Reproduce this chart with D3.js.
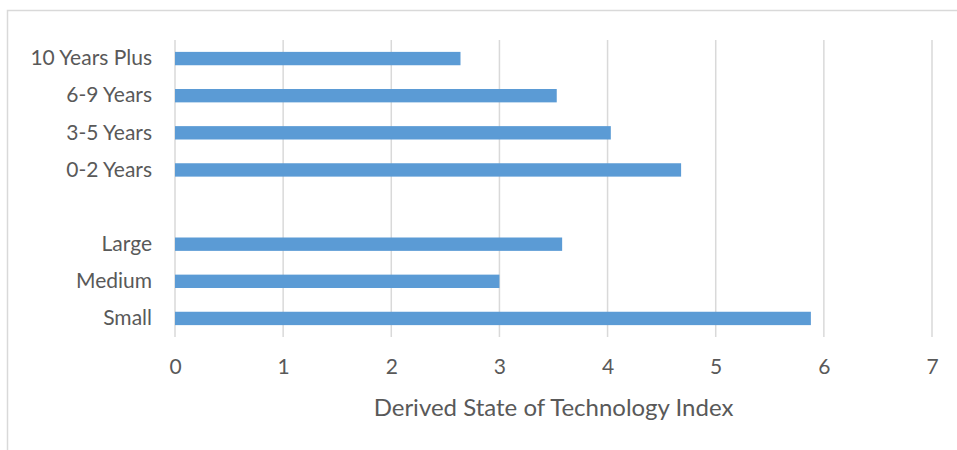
<!DOCTYPE html>
<html>
<head>
<meta charset="utf-8">
<script src="https://cdn.jsdelivr.net/npm/d3@7"></script>
<style>
  body { margin: 0; background: #fff; }
  text { font-family: Lato, "Open Sans", sans-serif; fill: #595959; }
</style>
</head>
<body>
<script>
// categories top to bottom, "" is the empty gap row
let categories = ["10 Years Plus", "6-9 Years", "3-5 Years", "0-2 Years", "", "Large", "Medium", "Small"];
let values = [2.64, 3.53, 4.03, 4.68, null, 3.58, 3.00, 5.88];
let xTicks = [0, 1, 2, 3, 4, 5, 6, 7];
let xTitle = "Derived State of Technology Index";

let data = categories.map(function(c, i){
  return {id: "c" + i, label: c, value: values[i]};
});

var W = 957, H = 450;
var margin = {top: 40, right: 25, bottom: 113, left: 175},
    width = W - margin.left - margin.right,
    height = H - margin.top - margin.bottom;

var root = d3.select("body").append("svg")
  .attr("width", W)
  .attr("height", H);

// outer chart frame
root.append("rect")
  .attr("x", 7.5).attr("y", 10.5)
  .attr("width", 1000).attr("height", 1000)
  .attr("fill", "none")
  .attr("stroke", "#d9d9d9")
  .attr("stroke-width", 1.5);

var svg = root.append("g")
  .attr("transform", "translate(" + margin.left + "," + margin.top + ")");

var xScale = d3.scaleLinear().domain([0, 7]).range([0, 757]);
var yScale = d3.scaleBand().domain(data.map(function(d){ return d.id; })).range([0, height]).paddingInner(0.64).paddingOuter(0.32);

// gridlines
svg.selectAll("line.grid")
  .data(xTicks)
  .enter()
  .append("line")
  .attr("class", "grid")
  .attr("x1", function(d){ return xScale(d); })
  .attr("x2", function(d){ return xScale(d); })
  .attr("y1", 0)
  .attr("y2", height)
  .attr("stroke", "#d9d9d9")
  .attr("stroke-width", 1.5);

svg.selectAll("rect.bar")
  .data(data.filter(function(d){ return d.value != null; }))
  .enter()
  .append("rect")
  .attr("class", "bar")
  .attr("x", xScale(0))
  .attr("y", function(d){ return yScale(d.id); })
  .attr("width", function(d){ return xScale(d.value) - xScale(0); })
  .attr("height", yScale.bandwidth())
  .attr("fill", "#5b9bd5");

var xAxis = d3.axisBottom(xScale).tickValues(xTicks).tickFormat(d3.format("d")).tickSize(0).tickPadding(22);
var gx = svg.append("g")
  .attr("transform", "translate(0," + height + ")")
  .call(xAxis);
gx.select(".domain").remove();
gx.selectAll("text")
  .attr("font-family", "Lato, sans-serif")
  .attr("font-size", "21px")
  .attr("fill", "#595959");

var yAxis = d3.axisLeft(yScale).tickSize(0).tickPadding(23)
  .tickFormat(function(id){ return data.find(function(d){ return d.id == id; }).label; });
var gy = svg.append("g").call(yAxis);
gy.select(".domain").remove();
gy.selectAll("text")
  .attr("font-family", "Lato, sans-serif")
  .attr("font-size", "21px")
  .attr("fill", "#595959");

svg.append("text")
  .text(xTitle)
  .attr("x", xScale(3.5))
  .attr("y", height + 79)
  .attr("text-anchor", "middle")
  .attr("font-size", "24px");
</script>
</body>
</html>
